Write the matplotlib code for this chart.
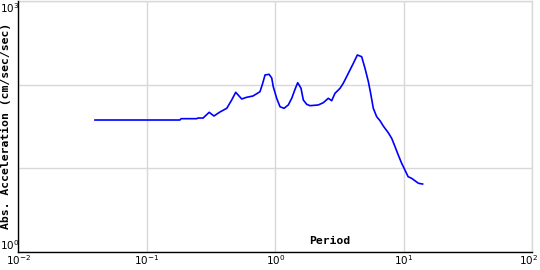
import matplotlib
matplotlib.use("Agg")
import matplotlib.pyplot as plt
from matplotlib.transforms import ScaledTranslation

# Response spectrum: period (s) vs absolute acceleration (cm/sec/sec)
period = [0.0395, 0.181, 0.185, 0.244, 0.25, 0.274, 0.306, 0.333, 0.371, 0.419,
          0.458, 0.492, 0.548, 0.598, 0.670, 0.760, 0.798, 0.832, 0.894, 0.938,
          0.964, 1.025, 1.088, 1.169, 1.262, 1.342, 1.424, 1.494, 1.585, 1.652,
          1.754, 1.862, 2.161, 2.364, 2.585, 2.747, 2.915, 3.19, 3.38, 3.70,
          4.05, 4.35, 4.70, 4.99, 5.30, 5.52, 5.79, 6.15, 6.53, 6.92,
          7.57, 8.05, 8.55, 9.06, 9.63, 10.2, 10.8, 11.5, 12.2, 13.0, 14.0]
accel = [37.6, 37.6, 39.0, 39.0, 39.7, 39.7, 46.5, 42.0, 46.9, 51.9,
         65.3, 80.7, 67.1, 70.3, 72.8, 82.0, 103.4, 130.0, 132.5, 119.6,
         94.1, 68.4, 54.2, 51.9, 56.9, 68.4, 87.6, 105.1, 90.1, 65.3,
         58.0, 55.8, 56.9, 60.6, 68.4, 64.0, 78.5, 90.1, 103.4, 136.1,
         179.4, 225.3, 215.2, 156.2, 108.0, 78.5, 51.9, 41.2, 36.9, 31.9,
         26.5, 22.7, 18.0, 14.3, 11.4, 9.5, 7.9, 7.55, 7.07, 6.58, 6.45]

xticks = [1e-2, 1e-1, 1e0, 1e1, 1e2]
xticklabels = ['$10^{-2}$', '$10^{-1}$', '$10^{0}$', '$10^{1}$', '$10^{2}$']
yticks = [1e0, 1e1, 1e2, 1e3]
yticklabels = ['$10^{0}$', '', '', '$10^{3}$']

fig = plt.figure(figsize=(5.4, 2.7), dpi=100)
ax = fig.add_axes([18.3/540, 18.3/270, 514/540, 250.8/270])

ax.plot(period, accel, color='#0000ff', linewidth=1.2)

ax.set_xscale('log')
ax.set_yscale('log')
ax.set_xlim(1e-2, 1e2)
ax.set_ylim(1e0, 1e3)

ax.set_xticks(xticks)
ax.set_xticklabels(xticklabels, fontsize=7.5)
ax.set_yticks(yticks)
ax.set_yticklabels(yticklabels, fontsize=7.5)
ax.minorticks_off()
ax.tick_params(axis='both', length=0)
ax.tick_params(axis='x', pad=1)
ax.tick_params(axis='y', pad=13)

# keep the end labels inside the figure, like the original
ylabs = ax.get_yticklabels()
for t in ylabs:
    t.set_ha('left')
ylabs[0].set_va('bottom')
ylabs[-1].set_va('top')
last = ax.get_xticklabels()[-1]
last.set_transform(last.get_transform() + ScaledTranslation(-3/72, 0, fig.dpi_scale_trans))

ax.grid(True, color='#d8d8d8', linewidth=1)
ax.set_axisbelow(True)
for s in ['top', 'right']:
    ax.spines[s].set_visible(False)
for s in ['left', 'bottom']:
    ax.spines[s].set_linewidth(1)
    ax.spines[s].set_color('black')
# light lines on the top and right edges
ax.axhline(1e3, color='#d8d8d8', linewidth=1, clip_on=False, zorder=0)
ax.axvline(1e2, color='#d8d8d8', linewidth=1, clip_on=False, zorder=0)

ax.set_ylabel('Abs. Acceleration (cm/sec/sec)', fontsize=8.2,
              family='DejaVu Sans Mono', fontweight='bold')
ax.yaxis.set_label_coords(-0.014, 0.5)
ax.set_xlabel('Period', fontsize=8.2, family='DejaVu Sans Mono', fontweight='bold')
ax.xaxis.set_label_coords(0.606, 0.062)

plt.savefig('out.png', dpi=100)
